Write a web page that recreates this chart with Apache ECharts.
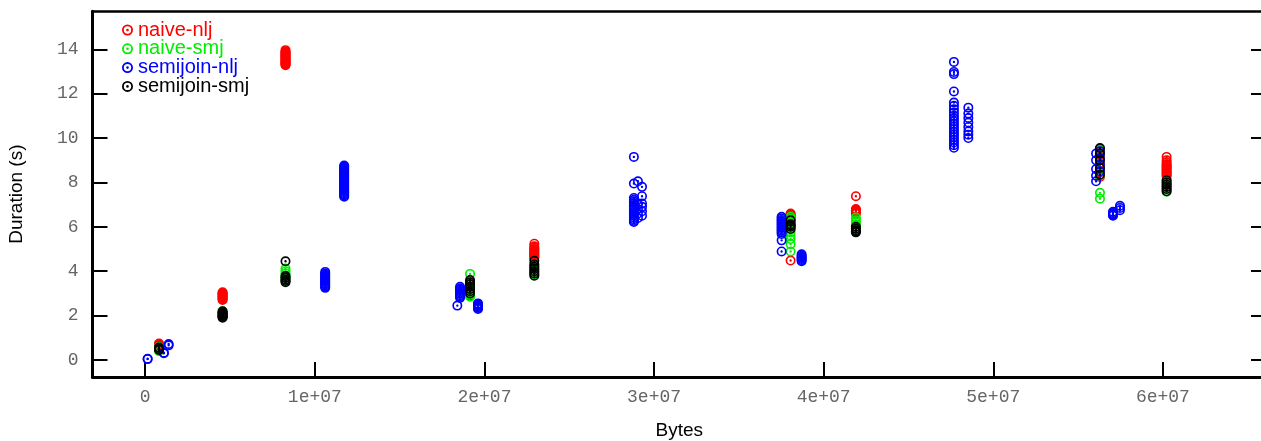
<!DOCTYPE html>
<html>
<head>
<meta charset="utf-8">
<script src="https://cdn.jsdelivr.net/npm/echarts@6/dist/echarts.min.js"></script>
<style>
  html, body { margin: 0; padding: 0; background: #fff; }
  #chart { width: 1261px; height: 441px; }
</style>
</head>
<body>
<div id="chart"></div>
<script>
// each entry: [bytes, [durations in s]]
const naiveNlj = [
  [8.1e5, [0.52, 0.56, 0.6, 0.63, 0.66, 0.7, 0.74]],
  [4.56e6, [2.7, 2.74, 2.78, 2.82, 2.86, 2.9, 2.94, 2.98, 3.02, 3.05]],
  [8.27e6, [13.28, 13.31, 13.35, 13.38, 13.42, 13.46, 13.5, 13.54, 13.58, 13.62, 13.66, 13.7, 13.74, 13.78, 13.82, 13.86, 13.9, 13.96]],
  [1.915e7, [2.9, 3.05, 3.15, 3.3, 3.45]],
  [2.294e7, [4.6, 4.65, 4.7, 4.75, 4.8, 4.85, 4.9, 4.95, 5.0, 5.06, 5.12, 5.24]],
  [3.805e7, [4.48, 6.05, 6.2, 6.3, 6.38, 6.45, 6.5, 6.55, 6.6]],
  [4.19e7, [6.6, 6.64, 6.68, 6.72, 6.76, 6.8, 7.38]],
  [5.629e7, [8.25, 8.45, 8.65, 8.85, 9.05, 9.25, 9.4, 9.5]],
  [6.022e7, [8.28, 8.34, 8.4, 8.46, 8.52, 8.58, 8.64, 8.7, 8.76, 8.82, 8.9, 9.0, 9.15]]
];
const naiveSmj = [
  [8.1e5, [0.4, 0.46, 0.52, 0.58]],
  [4.56e6, [1.95, 2.0, 2.05, 2.1, 2.15, 2.2]],
  [8.27e6, [3.6, 3.7, 3.8, 3.9, 4.0, 4.12]],
  [1.915e7, [2.85, 2.95, 3.05, 3.15, 3.25, 3.88]],
  [2.294e7, [3.85, 3.95, 4.05, 4.15, 4.3]],
  [3.805e7, [4.89, 5.22, 5.45, 5.6, 5.75, 5.9, 6.05, 6.2, 6.35, 6.45]],
  [4.19e7, [5.8, 5.9, 6.0, 6.1, 6.2, 6.3, 6.42]],
  [5.629e7, [7.27, 7.53, 8.3, 8.7, 9.1, 9.45]],
  [6.022e7, [7.58, 7.68, 7.78, 7.88, 7.98, 8.1]]
];
const semijoinNlj = [
  [1.4e5, [0.04, 0.06]],
  [1.1e6, [0.3, 0.33]],
  [1.38e6, [0.66, 0.72]],
  [1.061e7, [3.25, 3.3, 3.35, 3.4, 3.45, 3.5, 3.55, 3.6, 3.65, 3.7, 3.75, 3.8, 3.85, 3.9, 3.97]],
  [1.173e7, [7.36, 7.41, 7.46, 7.51, 7.56, 7.61, 7.66, 7.71, 7.76, 7.81, 7.86, 7.91, 7.96, 8.01, 8.06, 8.11, 8.16, 8.21, 8.26, 8.31, 8.36, 8.41, 8.46, 8.51, 8.56, 8.61, 8.66, 8.71, 8.76]],
  [1.84e7, [2.45]],
  [1.856e7, [2.8, 2.86, 2.92, 2.98, 3.04, 3.1, 3.16, 3.22, 3.3]],
  [1.962e7, [2.3, 2.34, 2.38, 2.42, 2.46, 2.5, 2.55]],
  [2.881e7, [9.15, 7.95, 7.3, 7.22, 7.14, 7.06, 6.98, 6.9, 6.82, 6.74, 6.66, 6.58, 6.5, 6.42, 6.34, 6.27, 6.22]],
  [2.905e7, [8.05, 7.0, 6.8, 6.6, 6.4]],
  [2.929e7, [7.8, 7.38, 7.05, 6.9, 6.7, 6.5]],
  [3.752e7, [6.45, 6.38, 6.31, 6.24, 6.17, 6.1, 6.03, 5.96, 5.89, 5.82, 5.75, 5.68, 5.39, 4.89]],
  [3.87e7, [4.45, 4.5, 4.55, 4.6, 4.65, 4.7, 4.76]],
  [4.768e7, [13.43, 12.98, 12.88, 12.1, 11.6, 11.45, 11.3, 11.15, 11.0, 10.88, 10.76, 10.64, 10.52, 10.4, 10.28, 10.16, 10.04, 9.92, 9.8, 9.68, 9.56]],
  [4.853e7, [11.37, 11.1, 10.9, 10.7, 10.5, 10.3, 10.15, 10.0]],
  [5.606e7, [8.05, 8.3, 8.6, 9.0, 9.3]],
  [5.629e7, [8.5, 8.8, 9.1, 9.4]],
  [5.706e7, [6.5, 6.54, 6.58, 6.62, 6.68]],
  [5.747e7, [6.75, 6.85, 6.95]]
];
const semijoinSmj = [
  [8.1e5, [0.45, 0.5, 0.56]],
  [4.56e6, [1.9, 1.94, 1.98, 2.02, 2.06, 2.1, 2.14, 2.2]],
  [8.27e6, [3.5, 3.56, 3.62, 3.7, 3.78, 4.45]],
  [1.915e7, [3.0, 3.1, 3.2, 3.3, 3.4, 3.5, 3.6]],
  [2.294e7, [3.8, 3.9, 4.0, 4.1, 4.2, 4.3, 4.47]],
  [3.805e7, [5.9, 6.0, 6.06, 6.12, 6.3]],
  [4.19e7, [5.75, 5.8, 5.85, 5.92, 6.0]],
  [5.629e7, [8.35, 8.65, 9.0, 9.3, 9.55]],
  [6.022e7, [7.6, 7.7, 7.8, 7.9, 8.0, 8.1]]
];
const xTicks = [0, 1e7, 2e7, 3e7, 4e7, 5e7, 6e7];
const yTicks = [0, 2, 4, 6, 8, 10, 12, 14];

// ring with a dot in the middle
const ringDot = "path://M10,0A10,10,0,1,1,10,20A10,10,0,1,1,10,0Z" +
  "M10,3.3A6.7,6.7,0,1,0,10,16.7A6.7,6.7,0,1,0,10,3.3Z" +
  "M10,7.6A2.4,2.4,0,1,1,10,12.4A2.4,2.4,0,1,1,10,7.6Z";

function flat(groups) {
  let out = [];
  groups.forEach(g => g[1].forEach(v => out.push([g[0], v])));
  return out;
}
function xfmt(v) {
  if (v === 0) return "0";
  return Math.round(v / 1e7) + "e+07";
}

const mono = "Liberation Mono";
const sans = "Liberation Sans";
const xMin = -3.11e6, xMax = 6.608e7, yMin = -0.766, yMax = 15.71;

let chart = echarts.init(document.getElementById("chart"));
let mk = (name, data, color) => ({
  name: name,
  type: "scatter",
  symbol: ringDot,
  symbolSize: 10,
  itemStyle: { color: color, opacity: 1 },
  data: flat(data)
});

let option = {
  animation: false,
  backgroundColor: "#fff",
  grid: { left: 92.5, right: -5, top: 11.3, bottom: 64, outerBoundsMode: "none" },
  legend: {
    orient: "vertical",
    left: 122,
    top: 20,
    padding: 0,
    itemWidth: 11,
    itemHeight: 11,
    itemGap: -1.2,
    textStyle: { fontFamily: sans, fontSize: 20, lineHeight: 16.5 },
    data: [
      { name: "naive-nlj", textStyle: { color: "#ff0000" } },
      { name: "naive-smj", textStyle: { color: "#00ee00" } },
      { name: "semijoin-nlj", textStyle: { color: "#0000ff" } },
      { name: "semijoin-smj", textStyle: { color: "#000000" } }
    ]
  },
  xAxis: [
    {
      type: "value",
      min: xMin,
      max: xMax,
      name: "Bytes",
      nameLocation: "middle",
      nameGap: 44,
      nameTextStyle: { fontFamily: sans, fontSize: 19, color: "#000" },
      axisLine: { show: true, onZero: false, lineStyle: { color: "#000", width: 3 } },
      axisTick: { show: true, inside: true, length: 15, customValues: xTicks, lineStyle: { color: "#000", width: 2 } },
      axisLabel: { customValues: xTicks, formatter: xfmt, margin: 11, fontFamily: mono, fontSize: 18, color: "#666" },
      splitLine: { show: false }
    },
    {
      type: "value",
      position: "top",
      min: xMin,
      max: xMax,
      axisLine: { show: true, onZero: false, lineStyle: { color: "#000", width: 2.5 } },
      axisTick: { show: false },
      axisLabel: { show: false },
      splitLine: { show: false }
    }
  ],
  yAxis: [
    {
      type: "value",
      min: yMin,
      max: yMax,
      name: "Duration (s)",
      nameLocation: "middle",
      nameGap: 66,
      nameTextStyle: { fontFamily: sans, fontSize: 19, color: "#000" },
      axisLine: { show: true, onZero: false, lineStyle: { color: "#000", width: 3 } },
      axisTick: { show: true, inside: true, length: 15, customValues: yTicks, lineStyle: { color: "#000", width: 2 } },
      axisLabel: { customValues: yTicks, margin: 14, fontFamily: mono, fontSize: 18, color: "#666" },
      splitLine: { show: false }
    },
    {
      type: "value",
      position: "right",
      min: yMin,
      max: yMax,
      axisLine: { show: true, onZero: false, lineStyle: { color: "#000", width: 3 } },
      axisTick: { show: true, inside: true, length: 15, customValues: yTicks, lineStyle: { color: "#000", width: 2 } },
      axisLabel: { show: false },
      splitLine: { show: false }
    }
  ],
  series: [
    mk("naive-nlj", naiveNlj, "#ff0000"),
    mk("naive-smj", naiveSmj, "#00ee00"),
    mk("semijoin-nlj", semijoinNlj, "#0000ff"),
    mk("semijoin-smj", semijoinSmj, "#000000")
  ]
};
chart.setOption(option);
</script>
</body>
</html>
